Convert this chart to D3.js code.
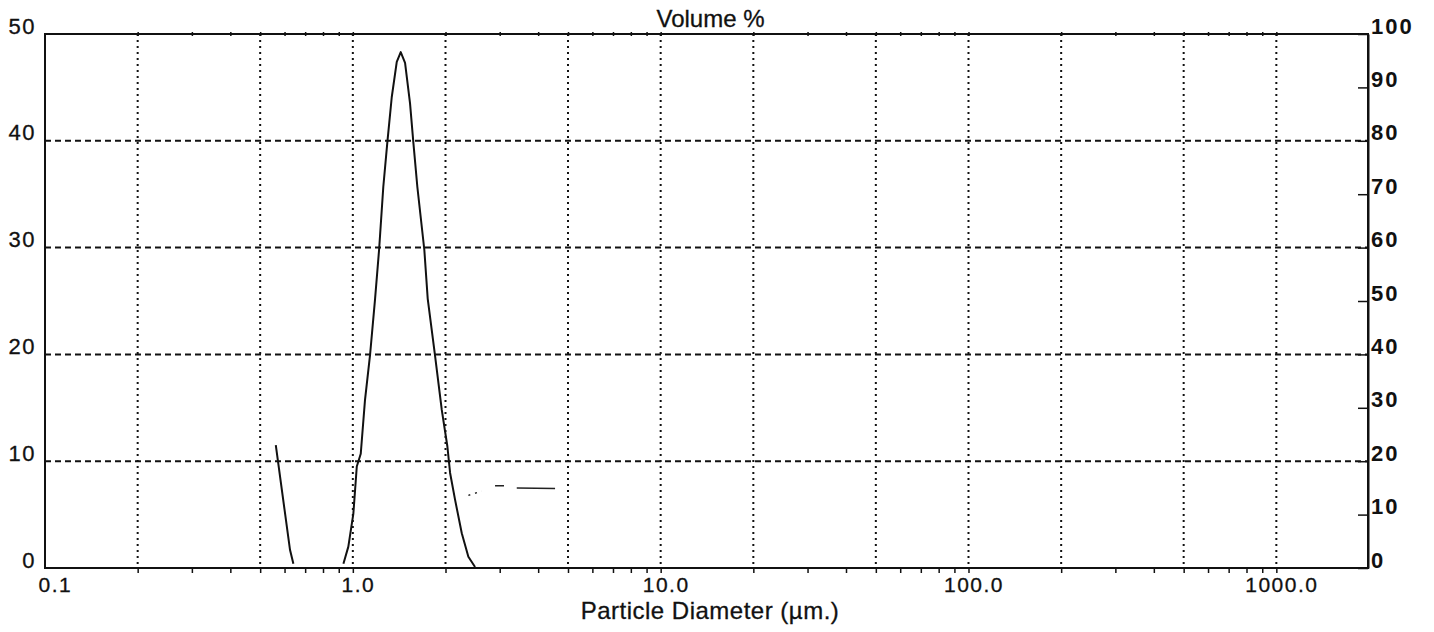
<!DOCTYPE html>
<html>
<head>
<meta charset="utf-8">
<script src="https://cdn.jsdelivr.net/npm/d3@7/dist/d3.min.js"></script>
<style>
  html, body { margin: 0; padding: 0; background: #fff; }
  svg { display: block; }
  text { font-family: "Liberation Sans", Arial, Helvetica, sans-serif; fill: #111; }
</style>
</head>
<body>
<svg id="chart" width="1434" height="632"></svg>
<script>
// Particle size distribution (volume %) on a log diameter axis
const diameterDomain = [0.1, 2000];
const volumeDomain = [0, 50];
const cumulativeDomain = [0, 100];

// Main peak: diameter (µm) and volume %
const peakDiameter = [0.932, 0.967, 1.004, 1.030, 1.061, 1.095, 1.137, 1.181, 1.217, 1.256, 1.294, 1.338,
  1.389, 1.431, 1.478, 1.534, 1.573, 1.620, 1.707, 1.751, 1.849, 1.945, 2.028, 2.070, 2.148, 2.259, 2.373, 2.495];
const peakVolume = [0.4, 2.0, 5.1, 9.5, 10.7, 15.7, 19.9, 25.2, 29.8, 35.7, 39.8, 44.1,
  47.4, 48.3, 47.3, 43.5, 39.8, 35.7, 29.8, 25.2, 19.9, 14.8, 11.4, 8.9, 6.4, 3.25, 1.06, 0.1];

// Fine fraction fragment
const fineDiameter = [0.562, 0.625, 0.641];
const fineVolume = [11.5, 1.7, 0.4];

// Faint broken trace beyond the peak, in pieces
const traceDiameter = [[2.373, 2.623], [2.897, 3.098], [3.408, 4.539]];
const traceVolume = [[6.8, 7.2], [7.7, 7.7], [7.5, 7.45]];

// Axis ticks and labels
const gridDiameters = [0.2, 0.5, 1, 2, 5, 10, 20, 50, 100, 200, 500, 1000];
const xLabelValues = [0.1, 1, 10, 100, 1000];
const xLabelText = ["0.1", "1.0", "10.0", "100.0", "1000.0"];
const leftTicks = [0, 10, 20, 30, 40, 50];
const rightTicks = [0, 10, 20, 30, 40, 50, 60, 70, 80, 90, 100];

const margin = { left: 45, right: 66, top: 34, bottom: 64 };
const W = 1434, H = 632;
const svg = d3.select("#chart");

const x = d3.scaleLog().domain(diameterDomain).range([margin.left, W - margin.right + 1]);
const y = d3.scaleLinear().domain(volumeDomain).range([H - margin.bottom, margin.top]);
const yR = d3.scaleLinear().domain(cumulativeDomain).range([H - margin.bottom, margin.top]);

const x0 = margin.left, x1 = W - margin.right, y0 = H - margin.bottom, y1 = margin.top;

// Horizontal dashed grid
svg.append("g").selectAll("line")
  .data(leftTicks.filter(v => v > 0 && v < 50))
  .join("line")
  .attr("x1", x0).attr("x2", x1)
  .attr("y1", d => y(d)).attr("y2", d => y(d))
  .attr("stroke", "#111").attr("stroke-width", 2)
  .attr("stroke-dasharray", "6,4");

// Vertical dotted grid
svg.append("g").selectAll("line")
  .data(gridDiameters)
  .join("line")
  .attr("x1", d => x(d)).attr("x2", d => x(d))
  .attr("y1", y1).attr("y2", y0)
  .attr("stroke", "#111").attr("stroke-width", 2)
  .attr("stroke-dasharray", "2,4");

// Minor log ticks along bottom and top
const minorTicks = x.ticks().filter(d => d > diameterDomain[0] && d < diameterDomain[1]);
svg.append("g")
  .attr("transform", `translate(0,${y0})`)
  .call(d3.axisBottom(x).tickValues(minorTicks).tickSize(5).tickFormat(""))
  .call(g => g.select(".domain").remove())
  .call(g => g.selectAll(".tick line").attr("stroke", "#111").attr("stroke-width", 1.5));
svg.append("g")
  .attr("transform", `translate(0,${y1 + 2})`)
  .call(d3.axisTop(x).tickValues(minorTicks).tickSize(4).tickFormat(""))
  .call(g => g.select(".domain").remove())
  .call(g => g.selectAll(".tick line").attr("stroke", "#111").attr("stroke-width", 1.5));

// Frame
svg.append("path")
  .attr("d", `M${x0},${y1}H${x1}V${y0}H${x0}Z`)
  .attr("fill", "none").attr("stroke", "#111").attr("stroke-width", 2);

// Bottom labels
svg.append("g")
  .attr("transform", `translate(0,${y0})`)
  .call(d3.axisBottom(x).tickValues(xLabelValues).tickSize(0).tickPadding(9)
    .tickFormat((d, i) => xLabelText[i]))
  .call(g => g.select(".domain").remove())
  .call(g => g.selectAll("text")
    .attr("font-size", 21).attr("letter-spacing", 1.5)
    .attr("font-family", null)
    .attr("stroke", "#111").attr("stroke-width", 0.3)
    .attr("text-anchor", (d, i) => i === 0 ? "start" : "middle")
    .attr("dx", (d, i) => i === 0 ? -7 : 5));

// Left axis labels (volume %)
svg.append("g")
  .attr("transform", `translate(${x0},0)`)
  .call(d3.axisLeft(y).tickValues(leftTicks).tickSize(0).tickPadding(9))
  .call(g => g.select(".domain").remove())
  .call(g => g.selectAll("text")
    .attr("font-size", 22).attr("letter-spacing", 1.5)
    .attr("font-family", null)
    .attr("stroke", "#111").attr("stroke-width", 0.3)
    .attr("dy", 0).attr("y", -1));

// Right axis (cumulative %), ticks pointing inward
svg.append("g")
  .attr("transform", `translate(${x1},0)`)
  .call(d3.axisRight(yR).tickValues(rightTicks).tickSize(-10).tickSizeOuter(0).tickPadding(3))
  .call(g => g.select(".domain").attr("stroke", "#111").attr("stroke-width", 2))
  .call(g => g.selectAll(".tick line").attr("stroke", "#111").attr("stroke-width", 1.5))
  .call(g => g.selectAll("text")
    .attr("font-size", 22).attr("font-weight", "bold").attr("letter-spacing", 2)
    .attr("font-family", null)
    .attr("dy", 0).attr("y", -1));

const line = d3.line().x(d => x(d[0])).y(d => y(d[1]));

// Main distribution curve
svg.append("path")
  .datum(d3.zip(peakDiameter, peakVolume))
  .attr("d", line)
  .attr("fill", "none").attr("stroke", "#111").attr("stroke-width", 2)
  .attr("stroke-linejoin", "round");

// Fine fraction fragment
svg.append("path")
  .datum(d3.zip(fineDiameter, fineVolume))
  .attr("d", line)
  .attr("fill", "none").attr("stroke", "#111").attr("stroke-width", 2);

// Broken trace pieces
svg.append("g").selectAll("path")
  .data(traceDiameter.map((ds, i) => d3.zip(ds, traceVolume[i])))
  .join("path")
  .attr("d", line)
  .attr("fill", "none").attr("stroke", "#222")
  .attr("stroke-width", 1.5)
  .attr("stroke-dasharray", (d, i) => i === 0 ? "2,5" : null);

// Titles
svg.append("text")
  .attr("x", (x0 + x1) / 2 + 4).attr("y", 27)
  .attr("text-anchor", "middle").attr("font-size", 24)
  .attr("stroke", "#111").attr("stroke-width", 0.3)
  .text("Volume %");

svg.append("text")
  .attr("x", 710).attr("y", 619)
  .attr("text-anchor", "middle").attr("font-size", 24).attr("letter-spacing", 0.5)
  .attr("stroke", "#111").attr("stroke-width", 0.3)
  .text("Particle Diameter (µm.)");
</script>
</body>
</html>
